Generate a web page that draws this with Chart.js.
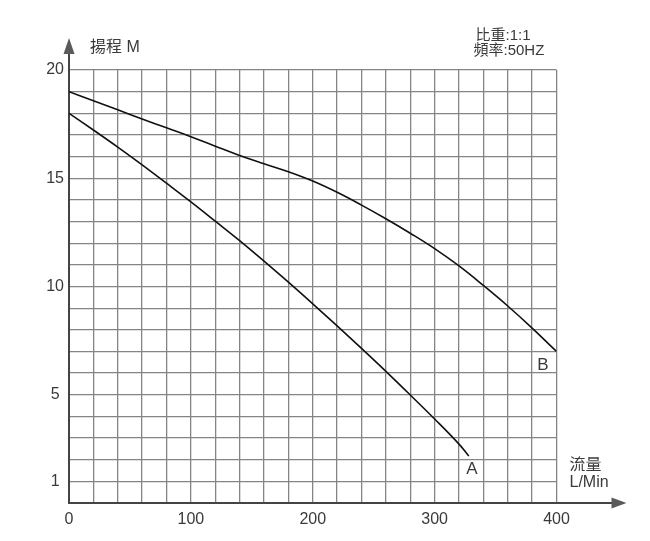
<!DOCTYPE html>
<html>
<head>
<meta charset="utf-8">
<script src="https://cdn.jsdelivr.net/npm/chart.js@4/dist/chart.umd.min.js"></script>
<style>
  html, body { margin: 0; padding: 0; background: #fff; }
  canvas { display: block; }
</style>
</head>
<body>
<canvas id="pumpChart" width="650" height="541"></canvas>
<script>
// ---------- data ----------
const flowA = [0, 20, 40, 60, 80, 100, 120, 140, 160, 180, 200, 220, 240, 260, 280, 300, 320, 328];
const headA = [18, 17.23, 16.44, 15.62, 14.77, 13.91, 13.02, 12.12, 11.17, 10.2, 9.2, 8.18, 7.14, 6.08, 4.99, 3.88, 2.72, 2.17];

const flowB = [0, 20, 40, 60, 80, 100, 120, 140, 160, 180, 200, 220, 240, 260, 280, 300, 320, 340, 360, 380, 400];
const headB = [19, 18.58, 18.16, 17.74, 17.33, 16.92, 16.48, 16.05, 15.67, 15.3, 14.87, 14.35, 13.76, 13.13, 12.46, 11.75, 10.95, 10.05, 9.1, 8.08, 7.0];

const xTickLabels = [0, 100, 200, 300, 400];
const yTickLabels = [1, 5, 10, 15, 20];

// curve name labels (data coords)
const curveNames = ["A", "B"];
const curveNameX = [330.6, 388.9];
const curveNameY = [1.54, 6.38];

const tickFont = { family: "Liberation Sans", size: 16 };
const textColor = "#3a3a3a";
const mixFont = "'Liberation Sans', 'Noto Sans CJK TC', sans-serif";

// ---------- arrows + texts ----------
const decorations = {
  id: "decorations",
  afterDraw(chart) {
    const ctx = chart.ctx;
    const xs = chart.scales.x, ys = chart.scales.y;
    const x0 = xs.getPixelForValue(0), y0 = ys.getPixelForValue(0);
    const top = ys.getPixelForValue(20), right = xs.getPixelForValue(400);

    ctx.save();
    ctx.strokeStyle = "#444";
    ctx.fillStyle = "#5a5a5a";
    ctx.lineWidth = 2;
    // y axis extension + arrow
    ctx.beginPath();
    ctx.moveTo(x0, top);
    ctx.lineTo(x0, top - 18);
    ctx.stroke();
    ctx.beginPath();
    ctx.moveTo(x0, top - 32);
    ctx.lineTo(x0 - 5.5, top - 16);
    ctx.lineTo(x0 + 5.5, top - 16);
    ctx.closePath();
    ctx.fill();
    // x axis extension + arrow
    ctx.beginPath();
    ctx.moveTo(right, y0);
    ctx.lineTo(right + 57, y0);
    ctx.stroke();
    ctx.beginPath();
    ctx.moveTo(right + 70, y0);
    ctx.lineTo(right + 55, y0 - 5.5);
    ctx.lineTo(right + 55, y0 + 5.5);
    ctx.closePath();
    ctx.fill();

    // curve names
    ctx.fillStyle = textColor;
    ctx.font = "17px 'Liberation Sans'";
    ctx.textAlign = "center";
    ctx.textBaseline = "middle";
    curveNames.forEach((n, i) => {
      ctx.fillText(n, xs.getPixelForValue(curveNameX[i]), ys.getPixelForValue(curveNameY[i]));
    });

    // axis titles
    ctx.textAlign = "left";
    ctx.font = "16px " + mixFont;
    ctx.fillText("揚程 M", x0 + 21, top - 22);
    ctx.fillText("流量", right + 13, ys.getPixelForValue(1.75));
    ctx.fillText("L/Min", right + 13, ys.getPixelForValue(0.95));

    // spec note
    ctx.font = "15px " + mixFont;
    ctx.fillText("比重:1:1", right - 81, top - 34);
    ctx.fillText("頻率:50HZ", right - 83, top - 19);
    ctx.restore();
  }
};

// ---------- chart ----------
new Chart(document.getElementById("pumpChart"), {
  type: "line",
  data: {
    datasets: [
      {
        label: "A",
        data: flowA.map((f, i) => ({ x: f, y: headA[i] })),
        borderColor: "#111",
        borderWidth: 1.6,
        pointRadius: 0,
        tension: 0.4,
        fill: false
      },
      {
        label: "B",
        data: flowB.map((f, i) => ({ x: f, y: headB[i] })),
        borderColor: "#111",
        borderWidth: 1.6,
        pointRadius: 0,
        tension: 0.4,
        fill: false
      }
    ]
  },
  options: {
    responsive: false,
    animation: false,
    layout: { padding: { top: 70, right: 93.5, left: 0, bottom: 0 } },
    plugins: { legend: { display: false }, tooltip: { enabled: false } },
    scales: {
      x: {
        type: "linear",
        min: 0,
        max: 400,
        afterFit: s => { s.height = 38; },
        ticks: {
          stepSize: 20,
          autoSkip: false,
          maxRotation: 0,
          padding: 7,
          color: textColor,
          font: tickFont,
          callback: v => xTickLabels.includes(v) ? String(v) : ""
        },
        grid: { color: "#858585", lineWidth: 1.3, drawTicks: false },
        border: { color: "#444", width: 2 }
      },
      y: {
        min: 0,
        max: 20,
        afterFit: s => { s.width = 69; },
        ticks: {
          stepSize: 1,
          autoSkip: false,
          padding: 5,
          crossAlign: "center",
          color: textColor,
          font: tickFont,
          callback: v => yTickLabels.includes(v) ? String(v) : ""
        },
        grid: { color: "#858585", lineWidth: 1.3, drawTicks: false },
        border: { color: "#444", width: 2 }
      }
    }
  },
  plugins: [decorations]
});
</script>
</body>
</html>
